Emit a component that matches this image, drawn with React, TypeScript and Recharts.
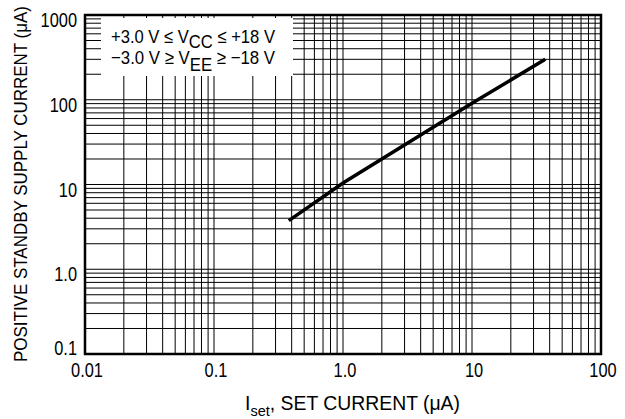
import { LineChart, Line, XAxis, YAxis, ReferenceLine, ReferenceArea, Label } from 'recharts';

// set current (uA) vs positive standby supply current (uA)
const setCurrent = [0.38, 1, 10, 37];
const standbyCurrent = [3.75, 10.4, 91, 300];

const xTicks = [0.01, 0.1, 1, 10, 100];
const xTickLabels = ['0.01', '0.1', '1.0', '10', '100'];
const yTicks = [0.1, 1, 10, 100, 1000];
const yTickLabels = ['0.1', '1.0', '10', '100', '1000'];

const mantissas = [1, 2, 3, 4, 5, 6, 7, 8, 9];
const xDecades = [0.01, 0.1, 1, 10];
const yDecades = [0.1, 1, 10, 100];

const FONT = '"Liberation Sans", Arial, sans-serif';
const SQUEEZE = 0.82; // the original uses a narrow face

const data = setCurrent.map((x, i) => ({ x, y: standbyCurrent[i] }));
const xGrid = xDecades.flatMap(d => mantissas.map(m => +(d * m).toPrecision(3))).filter(v => v > 0.01);
const yGrid = yDecades.flatMap(d => mantissas.map(m => +(d * m).toPrecision(3))).filter(v => v > 0.1);

const XTick = (props: any) => {
  const { x, payload } = props;
  const label = xTickLabels[xTicks.indexOf(payload.value)] ?? String(payload.value);
  return (
    <g transform={`translate(${x + 2},377) scale(${SQUEEZE},1)`}>
      <text textAnchor="middle" fontSize={20} fontFamily={FONT} fill="#000">{label}</text>
    </g>
  );
};

const YTick = (props: any) => {
  const { x, y, payload } = props;
  const label = yTickLabels[yTicks.indexOf(payload.value)] ?? String(payload.value);
  const shift = payload.value === 0.1 ? 1 : 12;
  return (
    <g transform={`translate(${x},${y + shift}) scale(${SQUEEZE},1)`}>
      <text textAnchor="end" fontSize={20} fontFamily={FONT} fill="#000">{label}</text>
    </g>
  );
};

const XTitle = () => (
  <text x={245} y={410} fontSize={20} fontFamily={FONT} fill="#000" textLength={215} lengthAdjust="spacingAndGlyphs">
    <tspan>I</tspan>
    <tspan fontSize={15} dy={6}>set</tspan>
    <tspan dy={-6}>, SET CURRENT (μA)</tspan>
  </text>
);

const YTitle = () => (
  <text
    transform="translate(27,184) rotate(-90)"
    textAnchor="middle"
    fontSize={19}
    fontFamily={FONT}
    fill="#000"
    textLength={356}
    lengthAdjust="spacingAndGlyphs"
  >
    POSITIVE STANDBY SUPPLY CURRENT  (μA)
  </text>
);

export default function App() {
  return (
    <div style={{ position: 'absolute', left: 0, top: 0, width: 625, height: 419, background: '#fff', fontFamily: FONT }}>
      <LineChart width={625} height={419} data={data} margin={{ top: 15, right: 24, left: 0, bottom: 0 }}>
        <XAxis
          dataKey="x"
          type="number"
          scale="log"
          domain={[0.01, 100]}
          ticks={xTicks}
          tickLine={false}
          axisLine={false}
          height={65}
          tick={<XTick />}
          allowDataOverflow
        >
          <Label content={<XTitle />} />
        </XAxis>
        <YAxis
          dataKey="y"
          type="number"
          scale="log"
          domain={[0.1, 1000]}
          ticks={yTicks}
          tickLine={false}
          axisLine={false}
          width={85}
          tick={<YTick />}
          allowDataOverflow
        >
          <Label content={<YTitle />} />
        </YAxis>
        {xGrid.map(v => (
          <ReferenceLine key={'x' + v} x={v} stroke="#000" strokeWidth={1} />
        ))}
        {yGrid.map(v => (
          <ReferenceLine key={'y' + v} y={v} stroke="#000" strokeWidth={1} />
        ))}
        <ReferenceArea x1={0.01} x2={100} y1={0.1} y2={1000} fill="none" stroke="#000" strokeWidth={2.5} />
        <Line
          dataKey="y"
          type="linear"
          stroke="#000"
          strokeWidth={3.5}
          dot={false}
          isAnimationActive={false}
        />
      </LineChart>
      <svg
        width={192}
        height={58}
        style={{ position: 'absolute', left: 101, top: 18 }}
        fontFamily={FONT}
      >
        <rect x={0} y={0} width={192} height={58} fill="#fff" />
        <text x={10} y={25} fontSize={19} fill="#000" textLength={164} lengthAdjust="spacingAndGlyphs">
          <tspan>+3.0 V ≤ V</tspan>
          <tspan dy={5}>CC</tspan>
          <tspan dy={-5}> ≤ +18 V</tspan>
        </text>
        <text x={10} y={46} fontSize={19} fill="#000" textLength={164} lengthAdjust="spacingAndGlyphs">
          <tspan>−3.0 V ≥ V</tspan>
          <tspan dy={7}>EE</tspan>
          <tspan dy={-7}> ≥ −18 V</tspan>
        </text>
      </svg>
    </div>
  );
}
